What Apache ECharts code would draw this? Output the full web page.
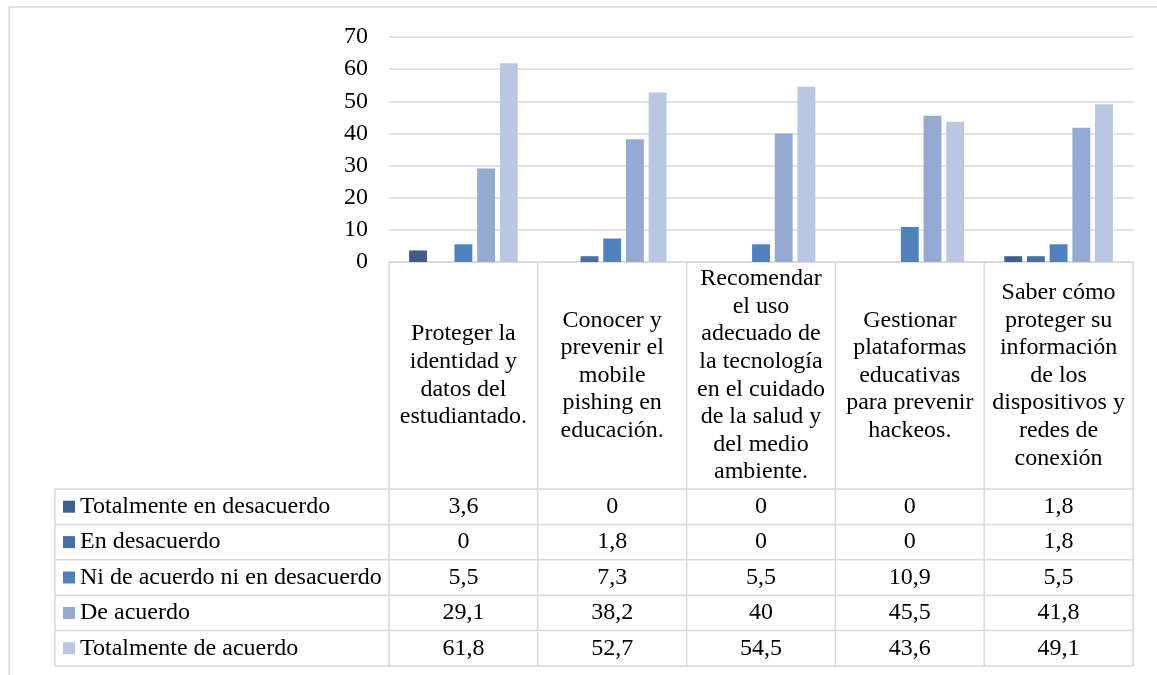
<!DOCTYPE html>
<html>
<head>
<meta charset="utf-8">
<script src="https://cdn.jsdelivr.net/npm/echarts@6/dist/echarts.min.js"></script>
<style>
  html, body { margin: 0; padding: 0; background: #fff; }
  #chart { width: 1157px; height: 675px; }
</style>
</head>
<body>
<div id="chart"></div>
<script>
// Categories (pre-wrapped as in the printed table header)
const categories = [
  'Proteger la\nidentidad y\ndatos del\nestudiantado.',
  'Conocer y\nprevenir el\nmobile\npishing en\neducación.',
  'Recomendar\nel uso\nadecuado de\nla tecnología\nen el cuidado\nde la salud y\ndel medio\nambiente.',
  'Gestionar\nplataformas\neducativas\npara prevenir\nhackeos.',
  'Saber cómo\nproteger su\ninformación\nde los\ndispositivos y\nredes de\nconexión'
];

const seriesNames = [
  'Totalmente en desacuerdo',
  'En desacuerdo',
  'Ni de acuerdo ni en desacuerdo',
  'De acuerdo',
  'Totalmente de acuerdo'
];

const totalmenteDesacuerdo = [3.6, 0, 0, 0, 1.8];
const enDesacuerdo = [0, 1.8, 0, 0, 1.8];
const niAcuerdoNiDesacuerdo = [5.5, 7.3, 5.5, 10.9, 5.5];
const deAcuerdo = [29.1, 38.2, 40, 45.5, 41.8];
const totalmenteAcuerdo = [61.8, 52.7, 54.5, 43.6, 49.1];

const yTicks = [0, 10, 20, 30, 40, 50, 60, 70];

const seriesValues = [totalmenteDesacuerdo, enDesacuerdo, niAcuerdoNiDesacuerdo, deAcuerdo, totalmenteAcuerdo];
const colors = ['#3E5F8C', '#4470A3', '#4F81BD', '#95AAD1', '#B9C7E2'];

const FONT = "'Liberation Serif', 'Times New Roman', serif";
const FS = 24;
const LINE = '#D9D9D9';
const HEADER_H = 227;   // height of the category header row
const ROW_H = 35.4;     // height of each data row
const TABLE_LEFT = 55;  // left edge of the legend column

const chart = echarts.init(document.getElementById('chart'), null, { renderer: 'canvas' });

const fmt = v => String(v).replace('.', ',');

chart.setOption({
  backgroundColor: '#fff',
  animation: false,
  color: colors,
  grid: { left: 389, right: 24, top: 37, bottom: 413, containLabel: false },
  xAxis: {
    type: 'category',
    data: categories,
    axisLine: { show: true, lineStyle: { color: LINE, width: 1.5 } },
    axisTick: { show: false },
    axisLabel: {
      interval: 0,
      margin: HEADER_H / 2,
      verticalAlign: 'middle',
      align: 'center',
      fontFamily: FONT,
      fontSize: FS,
      lineHeight: 27.6,
      color: '#000'
    }
  },
  yAxis: {
    type: 'value',
    min: yTicks[0],
    max: yTicks[yTicks.length - 1],
    interval: 10,
    axisLine: { show: false },
    axisTick: { show: false },
    axisLabel: { margin: 21, fontFamily: FONT, fontSize: FS, color: '#000' },
    splitLine: { lineStyle: { color: LINE, width: 1.5 } }
  },
  series: seriesNames.map((name, i) => ({
    name,
    type: 'bar',
    data: seriesValues[i],
    barGap: '27%',
    barCategoryGap: '27%',
    itemStyle: { color: colors[i] }
  }))
});

// Data table under the plot: borders, legend keys and values
function drawTable() {
  const n = categories.length;
  const c0 = chart.convertToPixel({ xAxisIndex: 0 }, 0);
  const c1 = chart.convertToPixel({ xAxisIndex: 0 }, 1);
  const step = c1 - c0;
  const xs = [];
  for (let i = 0; i <= n; i++) xs.push(c0 - step / 2 + i * step);
  const yTop = chart.convertToPixel({ yAxisIndex: 0 }, 0);
  const yRows = [];
  for (let r = 0; r <= seriesNames.length; r++) yRows.push(yTop + HEADER_H + r * ROW_H);
  const yBottom = yRows[yRows.length - 1];

  const g = [];
  const ls = { stroke: LINE, lineWidth: 1.5 };
  // outer frame (top and left edges)
  g.push({ type: 'line', shape: { x1: 9, y1: 7, x2: 1157, y2: 7 }, style: ls, silent: true });
  g.push({ type: 'line', shape: { x1: 9, y1: 7, x2: 9, y2: 675 }, style: ls, silent: true });
  // vertical lines through header and data rows
  xs.forEach(x => g.push({ type: 'line', shape: { x1: x, y1: yTop, x2: x, y2: yBottom }, style: ls, silent: true }));
  g.push({ type: 'line', shape: { x1: TABLE_LEFT, y1: yRows[0], x2: TABLE_LEFT, y2: yBottom }, style: ls, silent: true });
  // horizontal row lines
  yRows.forEach(y => g.push({ type: 'line', shape: { x1: TABLE_LEFT, y1: y, x2: xs[n], y2: y }, style: ls, silent: true }));

  seriesNames.forEach((name, r) => {
    const cy = (yRows[r] + yRows[r + 1]) / 2;
    g.push({ type: 'rect', shape: { x: 63, y: cy - 6, width: 12, height: 12 }, style: { fill: colors[r] }, silent: true });
    g.push({
      type: 'text', x: 80, y: cy,
      style: { text: name, font: FS + 'px ' + FONT, fill: '#000', textAlign: 'left', textVerticalAlign: 'middle' },
      silent: true
    });
    seriesValues[r].forEach((v, i) => {
      g.push({
        type: 'text', x: (xs[i] + xs[i + 1]) / 2, y: cy,
        style: { text: fmt(v), font: FS + 'px ' + FONT, fill: '#000', textAlign: 'center', textVerticalAlign: 'middle' },
        silent: true
      });
    });
  });
  chart.setOption({ graphic: { elements: g } });
}
drawTable();
</script>
</body>
</html>
